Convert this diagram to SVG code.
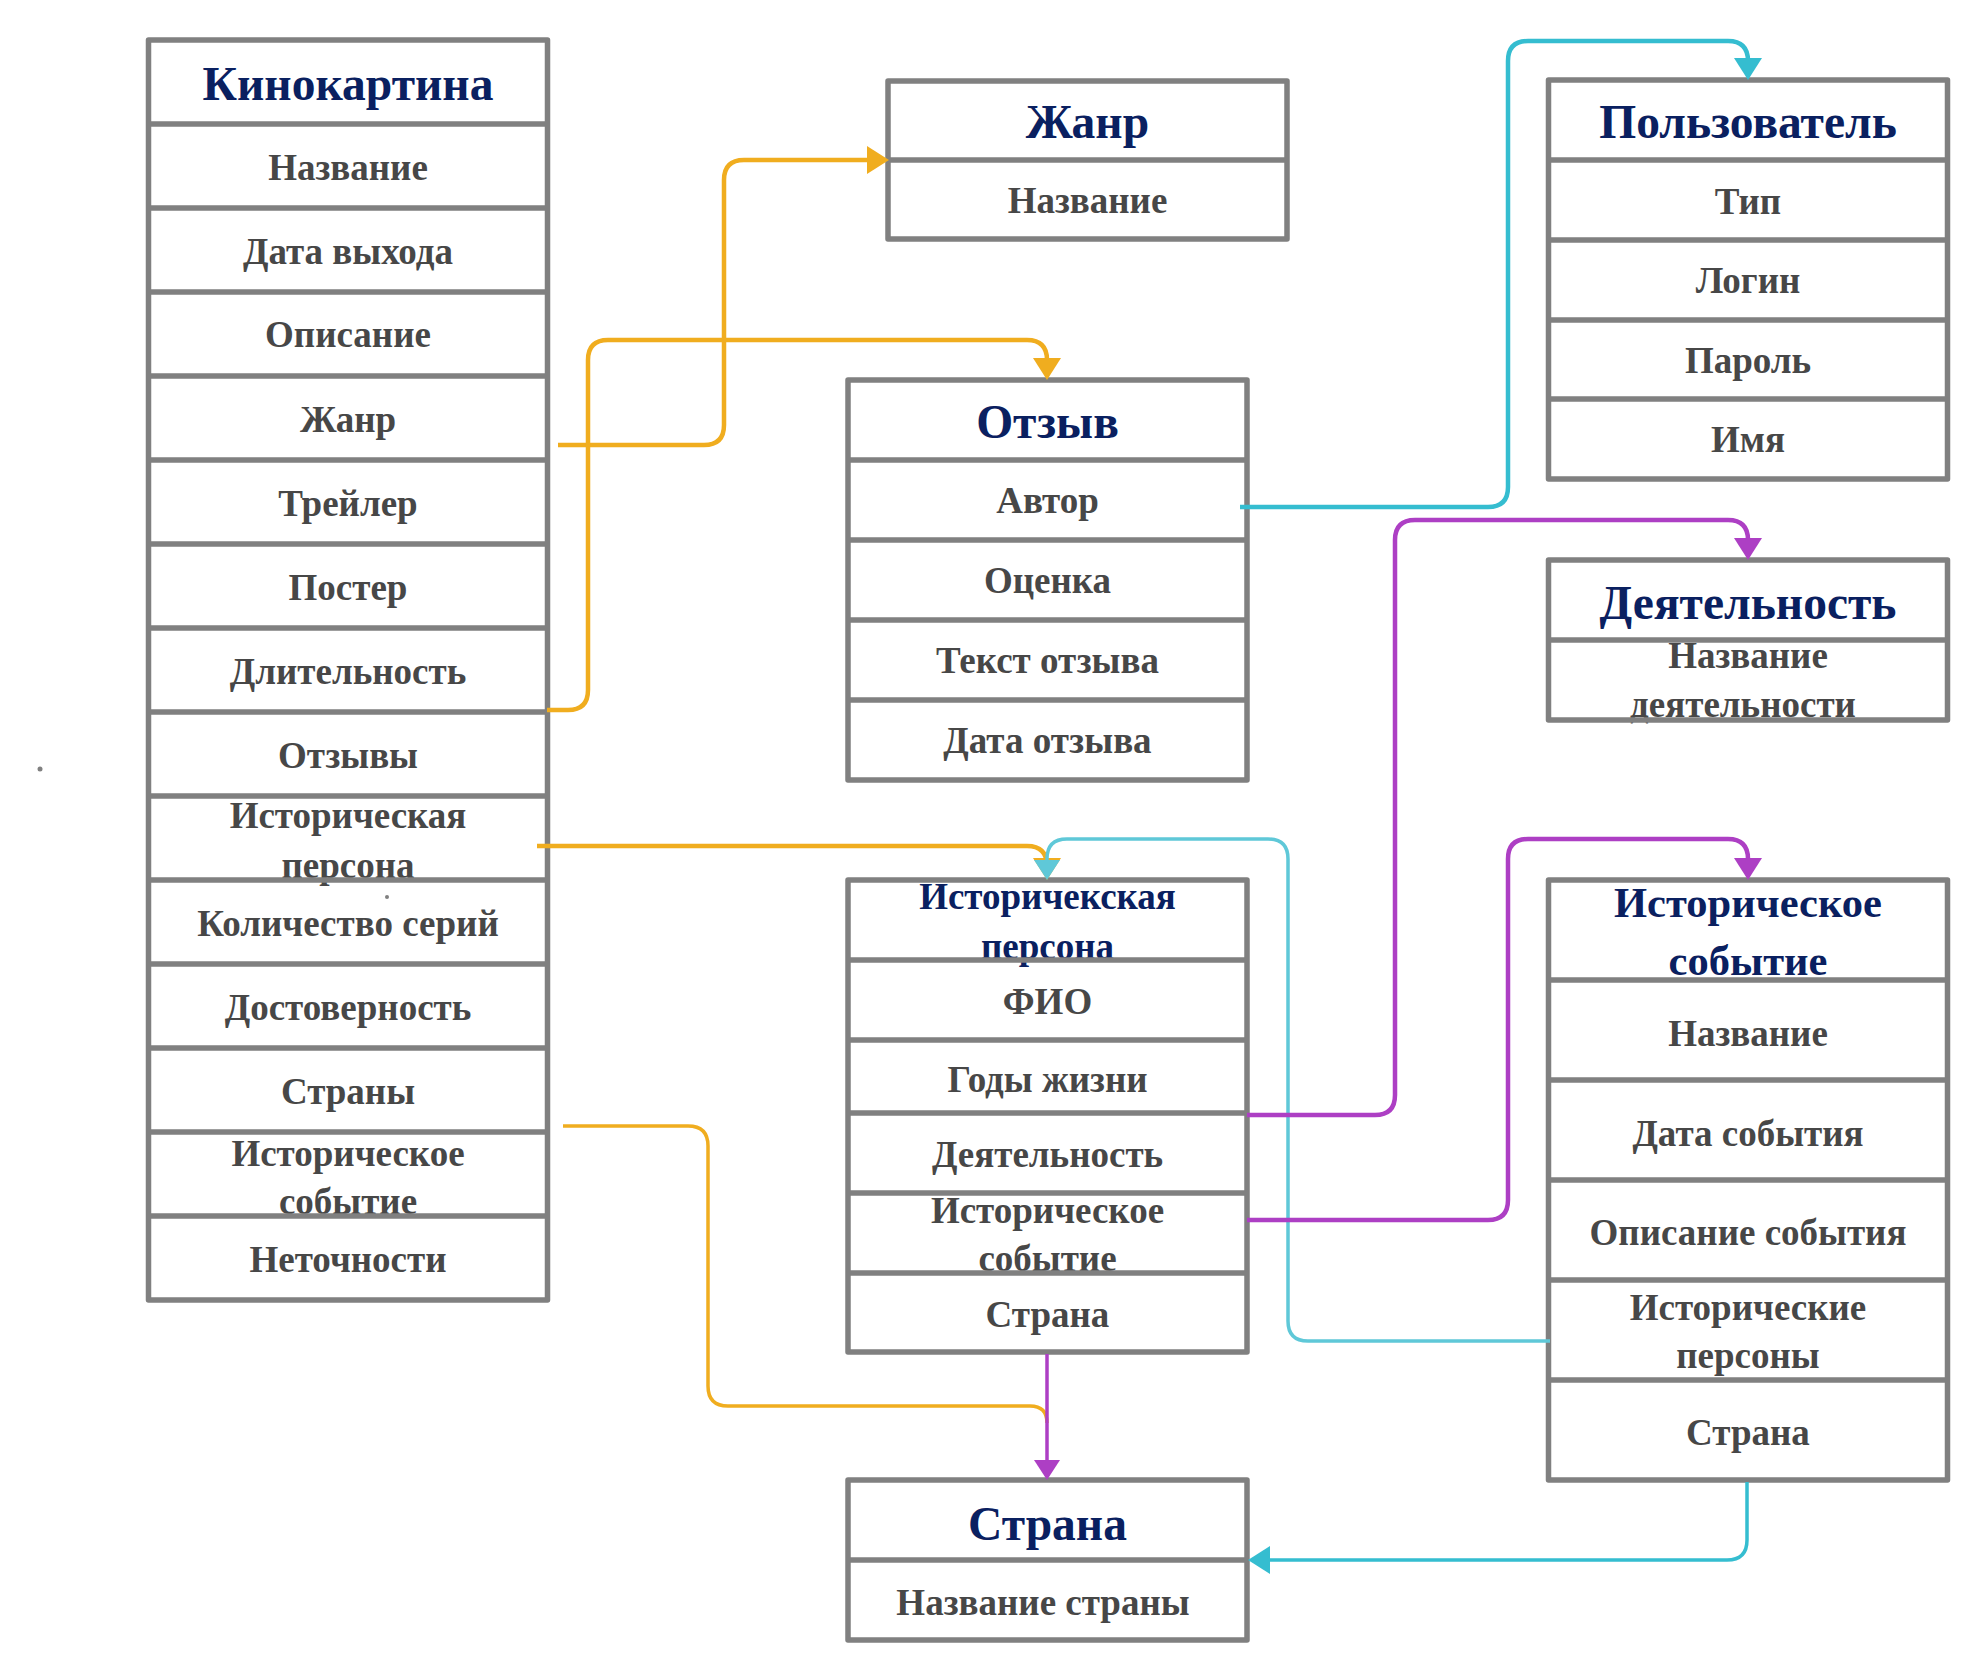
<svg xmlns="http://www.w3.org/2000/svg" width="1988" height="1680" viewBox="0 0 1988 1680">
<defs>
<style>
.bg{fill:#ffffff;stroke:none}
.bx{fill:none;stroke:#808080;stroke-width:5.5;stroke-linejoin:round}
.t{font-family:"Liberation Serif","Times New Roman",serif;font-weight:bold;fill:#0a2060;text-anchor:middle;font-size:47.5px}
.t2{font-family:"Liberation Serif","Times New Roman",serif;font-weight:bold;fill:#0a2060;text-anchor:middle;font-size:42.5px}
.t3{font-family:"Liberation Serif","Times New Roman",serif;font-weight:bold;fill:#0a2060;text-anchor:middle;font-size:37px}
.f{font-family:"Liberation Serif","Times New Roman",serif;font-weight:bold;fill:#474747;text-anchor:middle;font-size:37px}
.c{fill:none;stroke-linecap:butt;stroke-linejoin:round}
.or{stroke:#f0ad1f;stroke-width:4.5}
.orT{stroke:#f0ad1f;stroke-width:3.5}
.cy{stroke:#35bdd0;stroke-width:4.5}
.cyT{stroke:#5fc8d8;stroke-width:3.5}
.cyM{stroke:#35bdd0;stroke-width:3.5}
.pu{stroke:#ad3fc4;stroke-width:4.5}
.puT{stroke:#ad3fc4;stroke-width:3.5}
</style>
<marker id="aO" markerUnits="userSpaceOnUse" viewBox="0 0 22 28" markerWidth="22" markerHeight="28" refX="12" refY="14" orient="auto"><path d="M0,0 L22,14 L0,28 Z" fill="#f0ad1f"/></marker>
<marker id="aC" markerUnits="userSpaceOnUse" viewBox="0 0 22 28" markerWidth="22" markerHeight="28" refX="12" refY="14" orient="auto"><path d="M0,0 L22,14 L0,28 Z" fill="#35bdd0"/></marker>
<marker id="aCT" markerUnits="userSpaceOnUse" viewBox="0 0 20 26" markerWidth="20" markerHeight="26" refX="10" refY="13" orient="auto"><path d="M0,0 L20,13 L0,26 Z" fill="#5fc8d8"/></marker>
<marker id="aP" markerUnits="userSpaceOnUse" viewBox="0 0 22 28" markerWidth="22" markerHeight="28" refX="12" refY="14" orient="auto"><path d="M0,0 L22,14 L0,28 Z" fill="#ad3fc4"/></marker>
<marker id="aPT" markerUnits="userSpaceOnUse" viewBox="0 0 20 26" markerWidth="20" markerHeight="26" refX="10" refY="13" orient="auto"><path d="M0,0 L20,13 L0,26 Z" fill="#ad3fc4"/></marker>
</defs>
<rect width="1988" height="1680" fill="#ffffff"/>

<g id="kinokartina">
<rect class="bg" x="148.5" y="40" width="399" height="1260"/>
<text class="t" x="348" y="100">Кинокартина</text>
<text class="f" x="348" y="180">Название</text>
<text class="f" x="348" y="264">Дата выхода</text>
<text class="f" x="348" y="347">Описание</text>
<text class="f" x="348" y="432">Жанр</text>
<text class="f" x="348" y="516">Трейлер</text>
<text class="f" x="348" y="600">Постер</text>
<text class="f" x="348" y="684">Длительность</text>
<text class="f" x="348" y="768">Отзывы</text>
<text class="f" x="348" y="828">Историческая</text>
<text class="f" x="348" y="878">персона</text>
<text class="f" x="348" y="936">Количество серий</text>
<text class="f" x="348" y="1020">Достоверность</text>
<text class="f" x="348" y="1104">Страны</text>
<text class="f" x="348" y="1166">Историческое</text>
<text class="f" x="348" y="1214">событие</text>
<text class="f" x="348" y="1272">Неточности</text>
<path class="bx" d="M148.5,124H547.5M148.5,208H547.5M148.5,292H547.5M148.5,376H547.5M148.5,460H547.5M148.5,544H547.5M148.5,628H547.5M148.5,712H547.5M148.5,796H547.5M148.5,880H547.5M148.5,964H547.5M148.5,1048H547.5M148.5,1132H547.5M148.5,1216H547.5"/>
<rect class="bx" x="148.5" y="40" width="399" height="1260"/>
</g>

<g id="zhanr">
<rect class="bg" x="888" y="81" width="399" height="158"/>
<text class="t" x="1087.5" y="138">Жанр</text>
<text class="f" x="1087.5" y="213">Название</text>
<path class="bx" d="M888,160H1287"/>
<rect class="bx" x="888" y="81" width="399" height="158"/>
</g>

<g id="otzyv">
<rect class="bg" x="848" y="380" width="399" height="400"/>
<text class="t" x="1047.5" y="438">Отзыв</text>
<text class="f" x="1047.5" y="513">Автор</text>
<text class="f" x="1047.5" y="593">Оценка</text>
<text class="f" x="1047.5" y="673">Текст отзыва</text>
<text class="f" x="1047.5" y="753">Дата отзыва</text>
<path class="bx" d="M848,460H1247M848,540H1247M848,620H1247M848,700H1247"/>
<rect class="bx" x="848" y="380" width="399" height="400"/>
</g>

<g id="polzovatel">
<rect class="bg" x="1548.5" y="80" width="399" height="399"/>
<text class="t" x="1748" y="138">Пользователь</text>
<text class="f" x="1748" y="214">Тип</text>
<text class="f" x="1748" y="293">Логин</text>
<text class="f" x="1748" y="373">Пароль</text>
<text class="f" x="1748" y="452">Имя</text>
<path class="bx" d="M1548.5,160H1947.5M1548.5,240H1947.5M1548.5,320H1947.5M1548.5,399H1947.5"/>
<rect class="bx" x="1548.5" y="80" width="399" height="399"/>
</g>

<g id="deyatelnost">
<rect class="bg" x="1548.5" y="560" width="399" height="160"/>
<text class="t" x="1748" y="619">Деятельность</text>
<text class="f" x="1748" y="668">Название</text>
<text class="f" x="1743" y="717">деятельности</text>
<path class="bx" d="M1548.5,640H1947.5"/>
<rect class="bx" x="1548.5" y="560" width="399" height="160"/>
</g>

<g id="ist-persona">
<rect class="bg" x="848" y="880" width="399" height="472"/>
<text class="t3" x="1047.5" y="909">Историчекская</text>
<text class="t3" x="1047.5" y="959">персона</text>
<text class="f" x="1047.5" y="1014">ФИО</text>
<text class="f" x="1047.5" y="1092">Годы жизни</text>
<text class="f" x="1047.5" y="1167">Деятельность</text>
<text class="f" x="1047.5" y="1223">Историческое</text>
<text class="f" x="1047.5" y="1271">событие</text>
<text class="f" x="1047.5" y="1327">Страна</text>
<path class="bx" d="M848,960H1247M848,1040H1247M848,1113H1247M848,1193H1247M848,1273H1247"/>
<rect class="bx" x="848" y="880" width="399" height="472"/>
</g>

<g id="ist-sobytie">
<rect class="bg" x="1548.5" y="880" width="399" height="600"/>
<text class="t2" x="1748" y="917">Историческое</text>
<text class="t2" x="1748" y="975">событие</text>
<text class="f" x="1748" y="1046">Название</text>
<text class="f" x="1748" y="1146">Дата события</text>
<text class="f" x="1748" y="1245">Описание события</text>
<text class="f" x="1748" y="1320">Исторические</text>
<text class="f" x="1748" y="1368">персоны</text>
<text class="f" x="1748" y="1445">Страна</text>
<path class="bx" d="M1548.5,980H1947.5M1548.5,1080H1947.5M1548.5,1180H1947.5M1548.5,1280H1947.5M1548.5,1380H1947.5"/>
<rect class="bx" x="1548.5" y="880" width="399" height="600"/>
</g>

<g id="strana">
<rect class="bg" x="848" y="1480" width="399" height="160"/>
<text class="t" x="1047.5" y="1540">Страна</text>
<text class="f" x="1043" y="1615">Название страны</text>
<path class="bx" d="M848,1560H1247"/>
<rect class="bx" x="848" y="1480" width="399" height="160"/>
</g>

<g id="dots" fill="#808080">
<circle cx="40" cy="769" r="2.5"/>
<circle cx="387" cy="897" r="2"/>
</g>

<g id="connectors">
<path class="c or" d="M558,445H704Q724,445 724,425V180Q724,160 744,160H879" marker-end="url(#aO)"/>
<path class="c or" d="M547,710H568Q588,710 588,690V360Q588,340 608,340H1027Q1047,340 1047,360V370" marker-end="url(#aO)"/>
<path class="c or" d="M537,846H1027Q1047,846 1047,866V870" marker-end="url(#aO)"/>
<path class="c cyT" d="M1550,1341H1308Q1288,1341 1288,1321V859Q1288,839 1268,839H1067Q1047,839 1047,859V870" marker-end="url(#aCT)"/>
<path class="c orT" d="M563,1126H688Q708,1126 708,1146V1386Q708,1406 728,1406H1030Q1047,1406 1047,1423"/>
<path class="c cy" d="M1240,507H1488Q1508,507 1508,487V61Q1508,41 1528,41H1728Q1748,41 1748,61V70" marker-end="url(#aC)"/>
<path class="c pu" d="M1247,1115H1375Q1395,1115 1395,1095V540Q1395,520 1415,520H1728Q1748,520 1748,540V550" marker-end="url(#aP)"/>
<path class="c pu" d="M1247,1220H1488Q1508,1220 1508,1200V859Q1508,839 1528,839H1728Q1748,839 1748,859V870" marker-end="url(#aP)"/>
<path class="c puT" d="M1047,1354V1470" marker-end="url(#aPT)"/>
<path class="c cyM" d="M1747,1482V1540Q1747,1560 1727,1560H1258" marker-end="url(#aC)"/>
</g>
</svg>
